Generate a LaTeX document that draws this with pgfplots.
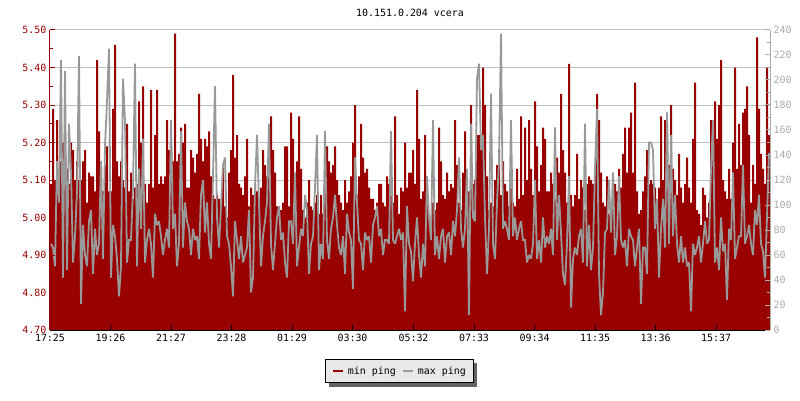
\documentclass[border=0pt]{standalone}
\usepackage{fontspec}
\setmainfont{DejaVu Sans Mono}
\usepackage{pgfplots}
\pgfplotsset{compat=1.18}
\usepackage{pgfplotstable}
\pgfdeclarelayer{bg}
\pgfsetlayers{bg,main}
\definecolor{rrdred}{RGB}{153,0,0}
\definecolor{rrdgray}{RGB}{153,153,153}
\definecolor{gridgray}{RGB}{192,192,192}
\definecolor{lblgray}{RGB}{170,170,170}
\definecolor{legbg}{RGB}{232,232,232}
\definecolor{shadowgray}{RGB}{100,100,100}

% columns: min ping, max ping (one row every 2 px of the time axis)
\pgfplotstableread[header=false]{
5.09 4.93
5.29 4.92
5.10 4.87
5.26 5.15
5.13 5.04
5.15 5.42
5.20 4.84
5.16 5.39
5.13 4.86
5.09 5.25
5.20 5.12
5.18 4.88
5.10 4.95
5.15 5.07
5.10 5.43
5.10 4.77
5.15 4.98
5.18 4.90
5.04 4.87
5.12 4.99
5.11 5.02
5.11 4.85
5.07 4.97
5.42 4.90
5.23 4.93
5.13 5.15
5.07 4.89
5.14 5.19
5.19 5.31
5.07 5.45
5.07 4.84
5.29 4.98
5.46 4.95
5.15 4.89
5.11 4.79
5.15 4.87
5.10 5.37
5.08 5.26
5.25 4.88
5.07 4.94
5.12 4.94
5.05 5.08
5.08 5.41
5.09 4.87
5.31 5.13
5.20 4.97
5.35 5.21
5.09 4.88
5.04 4.94
5.09 4.97
5.34 4.93
5.08 4.84
5.22 5.01
5.34 4.98
5.09 4.99
5.11 4.95
5.09 4.90
5.11 4.94
5.26 4.97
5.18 4.92
5.19 5.26
5.15 4.97
5.49 5.01
5.15 4.87
5.17 4.93
5.24 5.23
5.20 4.92
5.25 5.04
5.08 4.99
5.08 4.97
5.18 4.90
5.16 4.97
5.12 4.94
5.17 4.95
5.33 4.89
5.21 5.06
5.15 5.10
5.21 4.96
5.19 5.04
5.23 4.93
5.11 4.89
5.06 5.11
5.05 5.35
5.06 5.00
5.05 4.92
5.03 5.03
5.14 5.14
5.03 5.16
5.00 4.95
5.12 4.93
5.18 4.87
5.38 4.79
5.16 4.99
5.22 4.94
5.09 4.89
5.08 4.95
5.06 4.88
5.11 4.90
5.21 4.92
5.03 5.02
5.08 4.80
5.06 4.84
5.09 5.08
5.07 5.22
5.04 5.04
5.08 4.87
5.18 4.95
5.14 4.99
5.11 5.04
5.17 5.25
5.27 4.93
5.18 4.86
5.12 4.93
5.03 5.00
5.03 5.03
5.02 4.94
5.04 4.96
5.19 4.88
5.19 4.84
5.03 4.99
5.28 4.99
5.21 4.93
5.06 5.12
5.15 4.87
5.27 4.92
5.13 4.97
5.02 4.95
5.00 5.06
5.04 5.02
5.10 4.85
5.03 4.93
5.02 4.95
5.04 5.08
5.06 5.22
5.01 4.86
5.06 4.93
5.01 4.89
5.17 5.23
5.19 4.94
5.15 4.89
5.12 4.97
5.14 5.00
5.19 5.06
5.10 4.98
5.06 4.92
5.04 4.90
5.02 4.95
5.10 4.85
5.04 5.01
5.07 4.96
5.11 4.94
5.20 4.81
5.30 5.16
5.06 5.04
5.11 4.94
5.25 4.93
5.16 4.86
5.12 4.96
5.13 4.94
5.08 4.95
5.05 4.88
5.05 4.98
5.02 5.00
5.04 5.03
5.09 4.95
5.09 4.97
5.04 4.90
5.03 4.94
5.11 4.94
5.09 4.93
5.06 5.23
5.04 4.94
5.27 4.93
5.06 4.95
5.01 4.97
5.08 4.94
5.07 4.96
5.20 4.75
5.08 5.03
5.12 4.93
5.12 4.91
5.18 4.83
5.09 4.93
5.34 5.00
5.21 4.90
5.05 4.84
5.07 4.93
5.22 4.87
5.05 5.11
5.01 5.00
4.99 4.94
5.04 5.26
5.02 4.90
5.04 4.95
5.24 4.89
5.15 4.95
5.06 4.97
5.05 4.88
5.12 4.95
5.07 4.96
5.09 4.90
5.08 4.99
5.26 4.95
5.14 5.02
5.04 5.16
5.02 4.97
5.12 4.92
5.23 4.97
5.01 5.13
5.07 4.74
5.30 5.25
5.09 5.00
5.10 4.99
5.22 5.37
5.22 5.41
5.22 5.18
5.40 5.22
5.30 5.00
5.11 4.85
5.02 4.97
5.04 5.33
5.03 4.93
5.10 4.89
5.14 5.04
5.18 5.15
5.06 5.49
5.15 4.97
5.09 4.99
5.07 4.97
5.03 4.94
5.08 5.26
5.04 4.95
5.03 5.00
5.13 4.94
5.05 4.97
5.27 4.99
5.06 4.94
5.24 4.94
5.10 4.88
5.26 4.90
5.13 4.89
5.06 4.93
5.31 5.10
5.19 4.89
5.07 4.94
5.14 4.88
5.24 5.00
5.21 4.92
5.07 4.95
5.07 4.93
5.12 4.97
5.09 4.90
5.05 5.24
5.16 4.94
5.12 5.06
5.33 4.96
5.18 4.85
5.12 4.82
5.04 4.93
5.41 5.11
5.06 4.76
5.03 4.89
5.06 4.92
5.17 4.90
5.05 4.95
5.10 4.97
5.08 4.88
5.02 5.25
5.09 4.87
5.11 4.98
5.10 4.86
5.09 4.92
5.14 5.13
5.33 5.29
5.26 4.85
5.12 4.74
5.04 4.80
5.03 4.96
5.11 4.97
5.01 5.10
5.04 4.96
5.04 5.12
5.09 4.90
5.07 4.95
5.13 5.11
5.08 4.94
5.17 4.92
5.24 4.94
5.12 4.87
5.24 4.97
5.28 4.95
5.12 4.94
5.36 4.87
5.07 4.92
5.01 4.97
5.02 4.77
5.07 4.92
5.11 4.92
5.18 4.85
5.09 5.20
5.10 5.20
5.09 5.18
5.08 4.97
5.04 5.05
5.08 4.84
5.27 4.97
5.10 5.05
5.26 4.92
5.25 5.28
5.14 4.93
5.30 5.22
5.13 4.95
5.10 5.06
5.06 4.93
5.17 4.88
5.08 4.95
5.04 4.88
5.09 4.92
5.16 4.87
5.08 4.88
5.04 4.75
5.21 4.93
5.36 4.90
5.02 4.92
5.01 4.95
4.98 4.88
5.08 4.93
5.06 4.99
5.00 4.93
5.04 4.94
5.26 5.13
5.19 5.26
5.31 4.88
5.21 4.92
5.30 4.86
5.42 5.00
5.10 4.91
5.07 4.93
5.05 4.78
5.13 4.97
5.05 4.94
5.20 5.12
5.40 4.89
5.13 4.92
5.25 4.95
5.14 4.95
5.28 5.14
5.29 4.93
5.35 4.95
5.22 4.98
5.04 4.93
5.14 4.90
5.09 5.02
5.48 4.98
5.29 5.06
5.17 4.93
5.13 4.91
5.09 4.84
5.40 5.00
5.22 5.17
5.22 5.17
}\pingdata

\begin{document}
\begin{tikzpicture}
\pgfplotsset{
  every axis/.append style={
    scale only axis, width=720bp, height=300bp,
    xmin=0, xmax=720,
    tick label style={font=\fontsize{10}{12}\selectfont},
    /pgf/number format/assume math mode=true,
  },
}
% data + grid (drawn first, so ticks of the other axes lie on top)
\begin{axis}[name=ax,
  ymin=4.7, ymax=5.5,
  ytick={4.7,4.8,4.9,5.0,5.1,5.2,5.3,5.4,5.5},
  yticklabels={}, xtick=\empty,
  ymajorgrids, grid style={gridgray, line width=1bp},
  major tick length=0pt,
  axis line style={draw=none},
]
\addplot[const plot, fill=rrdred, draw=none] table[x expr=\coordindex*2, y index=0] {\pingdata} \closedcycle;
\addplot[sharp plot, rrdgray, line width=1.8bp, line join=miter, miter limit=2] table[x expr=\coordindex*2+1, y index=1] {\pingdata};
\end{axis}

% left + bottom axes, legend
\begin{axis}[at={(ax.south west)}, anchor=south west,
  ymin=4.7, ymax=5.5,
  axis x line*=bottom, axis y line*=left,
  x axis line style={black, line width=1bp},
  y axis line style={rrdred, line width=1bp},
  xtick={0,60.5,121,181.5,242,302.5,363.5,424,484.5,545,605.5,666},
  xticklabels={17:25,19:26,21:27,23:28,01:29,03:30,05:32,07:33,09:34,11:35,13:36,15:37},
  ytick={4.7,4.8,4.9,5.0,5.1,5.2,5.3,5.4,5.5},
  minor y tick num=1,
  tick align=inside, major tick length=5bp, minor tick length=3bp,
  x tick style={black, line width=1bp},
  y tick style={rrdred, line width=1bp},
  yticklabel style={rrdred, /pgf/number format/.cd, fixed, fixed zerofill, precision=2},
  xticklabel style={yshift=-1bp},
  legend style={name=leg, at={(0.4847,-0.1377)}, anchor=center, legend columns=2,
    fill=legbg, draw=black, line width=0.8bp,
    font=\fontsize{10}{12}\selectfont,
    inner xsep=7bp, inner ysep=6bp,
    nodes={inner xsep=0bp, inner ysep=1bp},
    /tikz/every odd column/.append style={column sep=4bp},
    /tikz/every even column/.append style={column sep=6bp}},
  legend image code/.code={\draw[#1] (0bp,0bp) -- (10bp,0bp);},
]
\addlegendimage{rrdred, line width=2bp}
\addlegendentry{min ping}
\addlegendimage{rrdgray, line width=2bp}
\addlegendentry{max ping\hspace{13bp}}
\end{axis}

% right axis
\begin{axis}[at={(ax.south west)}, anchor=south west,
  ymin=0, ymax=240,
  hide x axis, axis y line*=right,
  y axis line style={lblgray, line width=1bp},
  ytick={0,20,...,240}, minor y tick num=1,
  tick align=inside, major tick length=5bp, minor tick length=3bp,
  y tick style={lblgray, line width=1bp},
  yticklabel style={lblgray},
]
\end{axis}

\begin{pgfonlayer}{bg}
\fill[shadowgray] ([xshift=4bp,yshift=-4bp]leg.south west) rectangle ([xshift=4bp,yshift=-4bp]leg.north east);
\end{pgfonlayer}

\node[font=\fontsize{10}{12}\selectfont, anchor=center] at ([yshift=17bp]ax.north) {10.151.0.204 vcera};

\pgfresetboundingbox
\path[use as bounding box] ([xshift=-50bp,yshift=-70bp]ax.south west) rectangle ([xshift=30bp,yshift=30bp]ax.north east);
\end{tikzpicture}
\end{document}
